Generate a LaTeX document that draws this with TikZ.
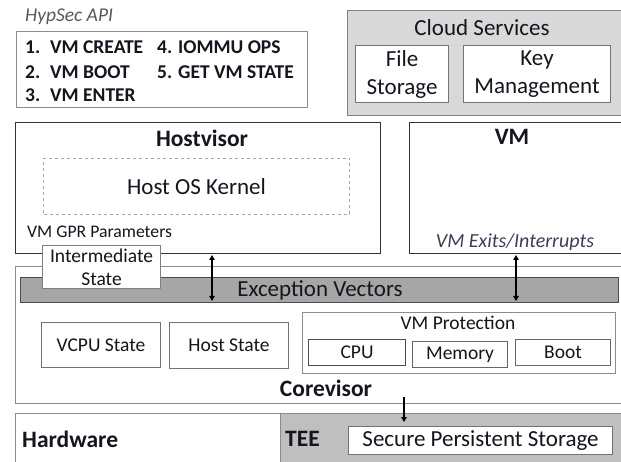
\documentclass[tikz,border=0pt]{standalone}
\usepackage{fontspec}
\setmainfont{Carlito}
\usetikzlibrary{arrows.meta}
\definecolor{cloudfill}{HTML}{D9D9D9}
\definecolor{excfill}{HTML}{A6A6A6}
\definecolor{teefill}{HTML}{BFBFBF}
\definecolor{txtcol}{HTML}{15151F}
\definecolor{itcol}{HTML}{3A3F5A}
\newcommand{\fs}[2]{\fontsize{#1}{#2}\selectfont}
\begin{document}
\begin{tikzpicture}[x=1pt,y=-1pt,
  bx/.style={draw=black!55, line width=1.1pt, inner sep=0pt, anchor=north west, fill=white},
  lbl/.style={inner sep=0pt, text=txtcol, font=\fs{23}{28}},
  bold lbl/.style={lbl, font=\fs{23.5}{28}\bfseries},
  api lbl/.style={lbl, anchor=west, font=\fs{19.5}{22}\bfseries},
  small lbl/.style={lbl, font=\fs{19.5}{23}},
  arr/.style={line width=1.4pt, {Triangle[length=5pt,width=5.5pt]}-{Triangle[length=5pt,width=5.5pt]}},
  darr/.style={line width=1.2pt, -{Triangle[length=5pt,width=5.5pt]}}]
\useasboundingbox (0,0) rectangle (621,462);
\clip (0,0) rectangle (621,462);
\fill[white] (0,0) rectangle (621,462);

% HypSec API
\node[lbl, anchor=west, font=\fs{19.5}{22}\itshape, text=black!65] (apititle) at (25,17) {HypSec API};
\node[bx, draw=black!45, line width=1pt, minimum width=291pt, minimum height=76pt] (api) at (16,31) {};
\node[api lbl] (n1) at (25,47) {1.};
\node[api lbl] (t1) at (50,47) {VM CREATE};
\node[api lbl] (n2) at (25,72) {2.};
\node[api lbl] (t2) at (50,72) {VM BOOT};
\node[api lbl] (n3) at (25,95) {3.};
\node[api lbl] (t3) at (50,95) {VM ENTER};
\node[api lbl] (t4) at (157,47) {4. IOMMU OPS};
\node[api lbl] (t5) at (157,72) {5. GET VM STATE};

% Cloud services
\node[bx, fill=cloudfill, draw=black!50, minimum width=278pt, minimum height=105pt] (cloud) at (347,10) {};
\node[lbl] (cloudt) at (482,28) {Cloud Services};
\node[bx, minimum width=93pt, minimum height=57pt] (file) at (355,45) {};
\node[lbl, align=center] (filet) at (file.center) {File\\Storage};
\node[bx, minimum width=147pt, minimum height=57pt] (key) at (463,45) {};
\node[lbl, align=center] (keyt) at (key.center) {Key\\Management};

% Hostvisor
\node[bx, draw=black!80, minimum width=365pt, minimum height=131pt] (host) at (15,122) {};
\node[bold lbl] (hostt) at (202,138) {Hostvisor};
\node[bx, draw=black!35, dashed, line width=1pt, minimum width=306pt, minimum height=56pt] (kernel) at (43,158) {};
\node[lbl] (kernelt) at (kernel.center) {Host OS Kernel};
\node[lbl, anchor=west, font=\fs{17.7}{20}] (gpr) at (27,232) {VM GPR Parameters};

% VM
\node[bx, draw=black!80, minimum width=216pt, minimum height=131pt] (vm) at (409,122) {};
\node[bold lbl] (vmt) at (512,137) {VM};
\node[lbl, font=\fs{20}{22}\itshape, text=itcol] (exits) at (515,242) {VM Exits/Interrupts};

% Corevisor
\node[bx, draw=black!45, minimum width=610pt, minimum height=137pt] (core) at (15,266) {};
\node[bx, fill=excfill, draw=black!70, minimum width=598pt, minimum height=25pt] (exc) at (20,277) {};
\node[lbl] (exct) at (320,290) {Exception Vectors};
\node[bx, draw=black!50, minimum width=118pt, minimum height=43pt] (inter) at (42,245) {};
\node[small lbl, align=center] (intert) at (inter.center) {Intermediate\\State};
\node[bx, minimum width=119pt, minimum height=45pt] (vcpu) at (41,322) {};
\node[small lbl] (vcput) at (vcpu.center) {VCPU State};
\node[bx, minimum width=119pt, minimum height=46pt] (hstate) at (169,322) {};
\node[small lbl] (hstatet) at (hstate.center) {Host State};
\node[bx, draw=black!45, minimum width=313pt, minimum height=61pt] (vmprot) at (302,312) {};
\node[small lbl] (vmprott) at (458,323) {VM Protection};
\node[bx, draw=black!70, minimum width=97pt, minimum height=26pt] (cpu) at (308,339) {};
\node[small lbl] (cput) at (cpu.center) {CPU};
\node[bx, draw=black!60, minimum width=95pt, minimum height=26pt] (mem) at (412,341) {};
\node[small lbl] (memt) at (mem.center) {Memory};
\node[bx, draw=black!60, minimum width=95pt, minimum height=26pt] (boot) at (515,339) {};
\node[small lbl] (boott) at (boot.center) {Boot};
\node[bold lbl] (coret) at (326,388) {Corevisor};

% Hardware
\node[bx, draw=black!45, minimum width=610pt, minimum height=60pt] (hw) at (15,413) {};
\node[bx, fill=teefill, draw=black!45, minimum width=345pt, minimum height=60pt] (tee) at (280,413) {};
\node[bold lbl, anchor=west] (hwt) at (22,439) {Hardware};
\node[bold lbl, anchor=west] (teet) at (285,439) {TEE};
\node[bx, draw=black!55, minimum width=264pt, minimum height=28pt] (sps) at (348,426) {};
\node[lbl] (spst) at (sps.center) {Secure Persistent Storage};

% Arrows
\coordinate (a1t) at (212,255);
\coordinate (a1b) at (212,301);
\coordinate (a2t) at (516,255);
\coordinate (a2b) at (516,301);
\coordinate (a3t) at (404,397);
\coordinate (a3b) at (404,422);
\draw[arr] (a1t) -- (a1b);
\draw[arr] (a2t) -- (a2b);
\draw[darr] (a3t) -- (a3b);
\end{tikzpicture}
\end{document}
